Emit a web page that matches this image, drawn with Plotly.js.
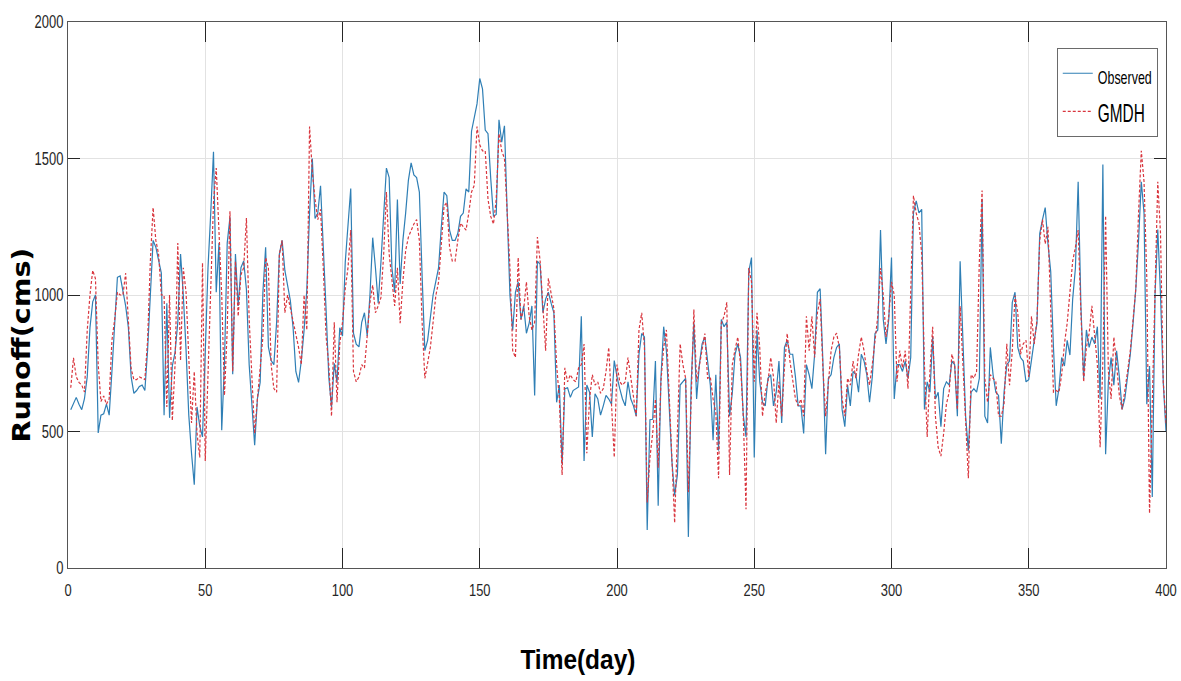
<!DOCTYPE html>
<html>
<head>
<meta charset="utf-8">
<script src="https://cdn.plot.ly/plotly-3.0.1.min.js"></script>
<style>
  html, body { margin: 0; padding: 0; background: #ffffff; overflow: hidden; }
  #chart { width: 1181px; height: 681px; }
</style>
</head>
<body>
<div id="chart"></div>
<script>
// Day index 1..400
const days = Array.from({length: 400}, (_, i) => i + 1);

// Observed runoff (cms), 10 values per row
const observed = [
  580, 600, 625, 600, 580, 620, 700, 880, 975, 1000,
  495, 560, 565, 600, 560, 720, 900, 1065, 1070, 1010,
  960, 880, 700, 640, 650, 665, 670, 650, 800, 1000,
  1200, 1175, 1130, 1080, 560, 970, 550, 740, 790, 900,
  1150, 1000, 800, 560, 420, 305, 590, 520, 480, 800,
  1100, 1300, 1525, 1010, 1190, 505, 750, 1190, 1285, 710,
  1150, 960, 1100, 1125, 1020, 745, 600, 450, 620, 680,
  1010, 1175, 810, 760, 745, 900, 1150, 1200, 1090, 1036,
  980, 880, 720, 680, 760, 870, 1020, 1300, 1500, 1280,
  1300, 1400, 1190, 950, 700, 590, 750, 680, 880, 850,
  1120, 1250, 1390, 860, 820, 810, 900, 935, 850, 1000,
  1210, 1100, 970, 1120, 1300, 1465, 1430, 1100, 1010, 1350,
  1040, 1200, 1300, 1420, 1484, 1440, 1430, 1377, 1070, 796,
  834, 910, 1000, 1050, 1100, 1250, 1377, 1364, 1238, 1200,
  1200, 1225, 1288, 1300, 1389, 1377, 1600, 1650, 1700, 1793,
  1755, 1604, 1591, 1427, 1288, 1295, 1642, 1560, 1620, 1300,
  1000, 870, 1010, 1048, 910, 960, 860, 897, 960, 632,
  1124, 1112, 935, 985, 1010, 970, 935, 607, 670, 380,
  657, 660, 625, 650, 657, 663, 922, 392, 670, 644,
  480, 638, 619, 560, 594, 632, 619, 600, 760, 700,
  657, 619, 594, 682, 620, 594, 556, 783, 859, 846,
  139, 543, 545, 758, 228, 695, 884, 796, 594, 392,
  266, 341, 670, 682, 695, 114, 670, 897, 619, 745,
  821, 846, 760, 670, 468, 708, 430, 910, 884, 900,
  556, 640, 783, 821, 771, 560, 480, 1086, 1137, 405,
  872, 682, 607, 594, 695, 708, 594, 644, 758, 531,
  808, 834, 783, 783, 700, 594, 594, 493, 745, 708,
  657, 783, 1010, 1023, 758, 417, 695, 708, 771, 808,
  821, 581, 518, 670, 594, 720, 708, 644, 783, 758,
  708, 607, 700, 859, 872, 1238, 910, 821, 910, 1137,
  619, 745, 745, 720, 758, 695, 771, 1301, 1345, 1301,
  1314, 581, 682, 644, 846, 619, 644, 518, 657, 682,
  670, 758, 745, 556, 1124, 872, 556, 430, 644, 657,
  644, 695, 1351, 556, 531, 808, 708, 644, 632, 455,
  644, 745, 758, 973, 1010, 808, 771, 758, 682, 690,
  771, 834, 897, 1225, 1276, 1320, 1187, 1086, 808, 594,
  657, 771, 740, 834, 780, 985, 1099, 1415, 960, 695,
  872, 808, 846, 821, 884, 619, 1478, 417, 682, 771,
  670, 796, 700, 581, 620, 708, 783, 897, 1023, 1200,
  1415, 1300, 600, 740, 260, 1000, 1240, 1000, 680, 500
];

// GMDH model output (cms)
const gmdh = [
  660, 770, 700, 680, 670, 645, 870, 1000, 1090, 1060,
  745, 610, 630, 600, 620, 834, 910, 1010, 1000, 1000,
  1080, 900, 730, 690, 690, 700, 695, 690, 834, 1124,
  1320, 1200, 1150, 1000, 1000, 590, 1000, 540, 745, 1190,
  760, 1100, 1010, 745, 531, 720, 493, 405, 1118, 392,
  700, 998, 1339, 1465, 1250, 1000, 632, 872, 1307, 720,
  1124, 922, 1074, 1100, 1282, 910, 700, 493, 619, 745,
  846, 1137, 1100, 745, 657, 644, 1150, 1200, 935, 1000,
  950, 910, 850, 808, 745, 1000, 872, 1617, 1452, 1350,
  1276, 1314, 1100, 850, 745, 556, 900, 607, 821, 900,
  1023, 1100, 1238, 720, 682, 700, 745, 733, 850, 973,
  1036, 935, 960, 990, 1150, 1377, 1150, 1050, 960, 1100,
  897, 1050, 1162, 1212, 1238, 1260, 1276, 1200, 900, 695,
  750, 808, 900, 998, 1048, 1200, 1326, 1339, 1175, 1124,
  1124, 1200, 1263, 1250, 1238, 1300, 1377, 1402, 1617, 1550,
  1528, 1528, 1351, 1288, 1260, 1351, 1591, 1528, 1500, 1300,
  1099, 796, 771, 1137, 910, 947, 1048, 922, 872, 900,
  1212, 1124, 935, 796, 1061, 998, 950, 745, 619, 341,
  733, 682, 708, 690, 682, 733, 745, 820, 420, 619,
  708, 670, 682, 640, 657, 720, 808, 600, 405, 745,
  682, 670, 682, 771, 700, 619, 556, 872, 935, 808,
  240, 405, 493, 619, 367, 682, 808, 872, 619, 367,
  165, 493, 821, 745, 695, 278, 619, 947, 682, 745,
  800, 859, 695, 700, 619, 569, 329, 897, 922, 973,
  341, 745, 800, 846, 745, 556, 215, 1099, 1048, 682,
  935, 808, 556, 644, 682, 771, 700, 531, 682, 556,
  733, 859, 758, 682, 620, 594, 619, 556, 922, 796,
  922, 771, 935, 985, 733, 556, 695, 796, 846, 860,
  808, 619, 556, 695, 670, 758, 695, 783, 846, 796,
  720, 670, 745, 834, 922, 1099, 1000, 846, 922, 1048,
  1000, 682, 796, 733, 796, 657, 973, 1364, 1300, 1263,
  1150, 745, 480, 720, 884, 556, 442, 410, 493, 600,
  644, 783, 745, 580, 960, 745, 493, 329, 708, 695,
  720, 1124, 1383, 695, 607, 708, 695, 682, 556, 556,
  600, 821, 670, 796, 998, 935, 783, 821, 834, 700,
  922, 821, 910, 1200, 1276, 1187, 1250, 900, 644, 650,
  644, 708, 821, 897, 998, 1124, 1175, 1238, 935, 682,
  808, 859, 960, 846, 745, 442, 758, 1290, 720, 619,
  846, 745, 632, 581, 644, 720, 796, 922, 1023, 1300,
  1528, 1415, 1061, 200, 620, 1000, 1415, 1225, 682, 530
];

const xTickVals = [0, 50, 100, 150, 200, 250, 300, 350, 400];
const yTickVals = [0, 500, 1000, 1500, 2000];
const seriesNames = ['Observed', 'GMDH'];
const xTitle = 'Time(day)';
const yTitle = 'Runoff(cms)';

const narrow = "'Liberation Sans Narrow', 'Arial Narrow', 'Liberation Sans', Arial, sans-serif";
const wide = "'DejaVu Sans', Verdana, 'Liberation Sans', sans-serif";

const traces = [
  {
    x: days, y: observed, type: 'scatter', mode: 'lines',
    name: '<span style="font-size:19px">' + seriesNames[0] + '</span>',
    line: {color: '#2f7fb5', width: 1.2}
  },
  {
    x: days, y: gmdh, type: 'scatter', mode: 'lines',
    name: '<span style="font-size:26px">' + seriesNames[1] + '</span>',
    line: {color: '#d9363e', width: 1.2, dash: '3px,2px'}
  }
];

const axisCommon = {
  showline: true, linecolor: '#555555', linewidth: 1, mirror: 'ticks',
  ticks: 'inside', tickcolor: '#262626', tickwidth: 1,
  showgrid: true, gridcolor: '#e2e2e2', gridwidth: 1,
  zeroline: false, ticklabeloverflow: 'allow'
};

const layout = {
  width: 1181, height: 681,
  margin: {l: 68, r: 15, t: 22, b: 113, pad: 0},
  paper_bgcolor: '#ffffff', plot_bgcolor: '#ffffff',
  showlegend: true,
  xaxis: Object.assign({}, axisCommon, {
    range: [0, 400], tickmode: 'array', tickvals: xTickVals, ticklen: 20,
    ticklabelstandoff: 7,
    tickfont: {family: narrow, size: 17, color: '#262626'}
  }),
  yaxis: Object.assign({}, axisCommon, {
    range: [0, 2000], tickmode: 'array', tickvals: yTickVals, ticklen: 12,
    tickfont: {family: narrow, size: 18, color: '#262626'}
  }),
  legend: {
    x: 0.9925, y: 0.952, xanchor: 'right', yanchor: 'top',
    bgcolor: '#ffffff', bordercolor: '#6a6a6a', borderwidth: 1,
    font: {family: narrow, size: 27, color: '#000000'},
    itemwidth: 30, tracegroupgap: 0
  },
  annotations: [
    {
      text: '<b>' + xTitle + '</b>', xref: 'paper', yref: 'paper',
      x: 0.4645, y: -0.168, xanchor: 'center', yanchor: 'middle',
      showarrow: false, font: {family: narrow, size: 28, color: '#000000'}
    },
    {
      text: '<b>' + yTitle + '</b>', xref: 'paper', yref: 'paper',
      x: -0.042, y: 0.408, xanchor: 'center', yanchor: 'middle', textangle: -90,
      showarrow: false, font: {family: wide, size: 24, color: '#000000'}
    }
  ]
};

function squeeze(el, target) {
  el.setAttribute('textLength', String(target));
  el.setAttribute('lengthAdjust', 'spacingAndGlyphs');
}

Plotly.newPlot('chart', traces, layout, {displayModeBar: false, staticPlot: true}).then(function (gd) {
  // Condense the tick labels like the reference's narrow lettering
  gd.querySelectorAll('.xtick text').forEach(function (t) {
    squeeze(t, t.getComputedTextLength() * 0.76);
  });
  gd.querySelectorAll('.ytick text').forEach(function (t) {
    squeeze(t, t.getComputedTextLength() * 0.72);
  });
  // Axis titles
  gd.querySelectorAll('.annotation-text').forEach(function (t) {
    if (t.textContent === yTitle) { squeeze(t, 195); }
    if (t.textContent === xTitle) { squeeze(t, 115); }
  });
  // Legend: condensed entry texts and a narrower box, right edge kept
  const legend = gd.querySelector('g.legend');
  if (legend) {
    const lt = legend.querySelectorAll('text.legendtext');
    const targets = [54, 47];
    let maxW = 0;
    lt.forEach(function (t, i) {
      const w = targets[i] || t.getComputedTextLength();
      squeeze(t, w);
      maxW = Math.max(maxW, w);
    });
    const bg = legend.querySelector('rect.bg');
    if (bg) {
      const oldW = parseFloat(bg.getAttribute('width'));
      const newW = 40 + maxW + 6;
      const shift = oldW - newW;
      if (shift > 0) {
        bg.setAttribute('width', String(newW));
        const tr = legend.getAttribute('transform') || '';
        const m = tr.match(/translate\(\s*([-\d.]+)[ ,]+([-\d.]+)\s*\)/);
        if (m) {
          legend.setAttribute('transform', 'translate(' + (parseFloat(m[1]) + shift) + ',' + m[2] + ')');
        }
      }
    }
  }
});
</script>
</body>
</html>
